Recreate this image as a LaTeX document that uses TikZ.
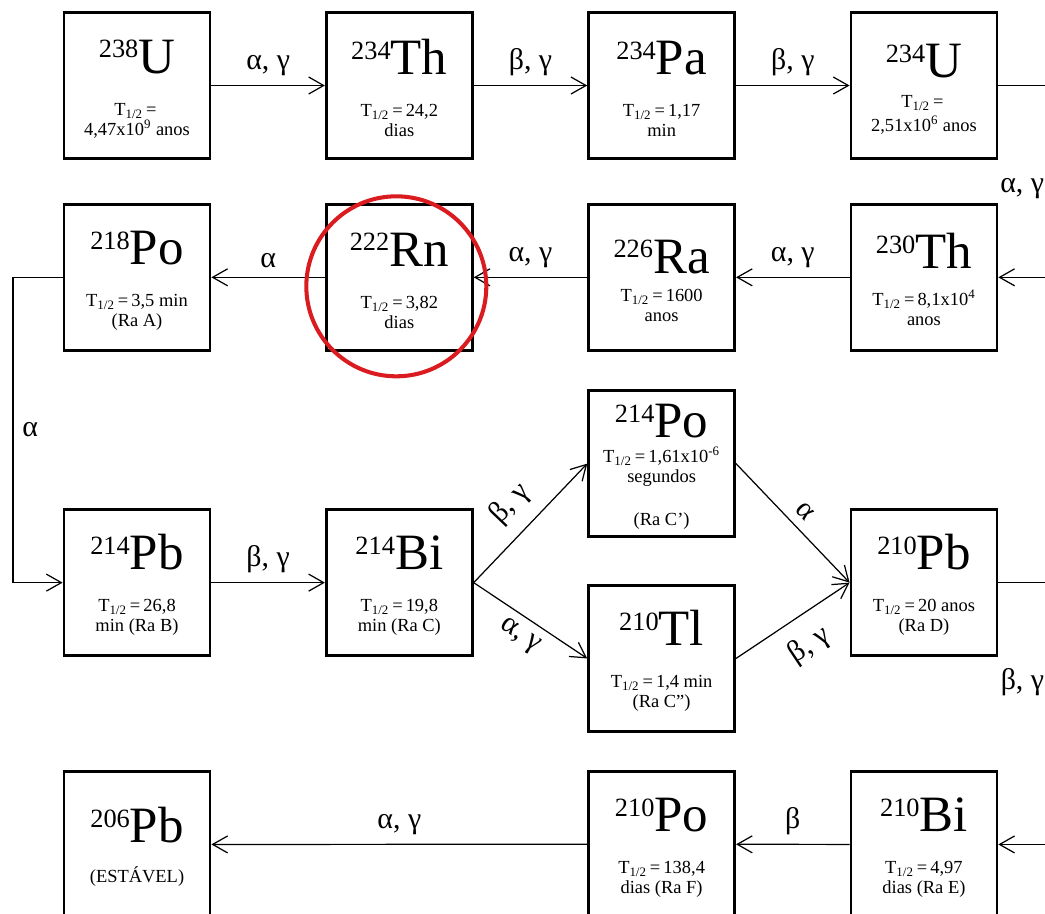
\documentclass[tikz,border=0pt]{standalone}
\usepackage{fontspec}
\setmainfont{Liberation Serif}
\usetikzlibrary{arrows.meta,positioning}

\definecolor{ringred}{RGB}{218,28,32}
\newcommand{\nuc}[2]{{\fontsize{29}{29}\selectfont\rule{0pt}{23pt}\raisebox{8.8pt}{\fontsize{15}{15}\selectfont #1}#2}}
\newcommand{\thalf}{T\textsubscript{1/2}\,=\,}

\begin{document}
\begin{tikzpicture}[
    node distance=0.86cm and 2.27cm,
    nucbox/.style={
      rectangle, draw=black, line width=1.6pt, fill=white,
      align=center, font=\fontsize{10.5}{11.4}\selectfont,
      minimum width=2.92cm, minimum height=2.92cm, inner sep=0pt,
    },
    arr/.style={-{Straight Barb[length=3mm,width=3.4mm]}, line width=0.7pt},
    lbl/.style={font=\fontsize{17}{17}\selectfont, inner sep=3pt},
  ]
  \useasboundingbox (0,0) rectangle (20.9,-18.26);
  \clip (0,0) rectangle (20.9,-18.26);

  % Row 1: uranium series start
  \node[nucbox] (u238) at (2.74,-1.71) {\nuc{238}{U}\\[12.5pt]\thalf\\4,47x10\textsuperscript{9} anos};
  \node[nucbox, right=of u238] (th234) {\nuc{234}{Th}\\[12.5pt]\thalf 24,2\\dias};
  \node[nucbox, right=of th234] (pa234) {\nuc{234}{Pa}\\[12.5pt]\thalf 1,17\\min};
  \node[nucbox, right=of pa234] (u234) {\nuc{234}{U}\\[5.6pt]\thalf\\[2pt]2,51x10\textsuperscript{6} anos};

  % Row 2: back to the left
  \node[nucbox, below=of u234] (th230) {\nuc{230}{Th}\\[9.6pt]\thalf 8,1x10\textsuperscript{4}\\anos};
  \node[nucbox, left=of th230] (ra226) {\nuc{226}{Ra}\\[4.6pt]\thalf 1600\\anos};
  \node[nucbox, left=of ra226] (rn222) {\nuc{222}{Rn}\\[12.5pt]\thalf 3,82\\dias};
  \node[nucbox, left=of rn222] (po218) {\nuc{218}{Po}\\[12.5pt]\thalf 3,5 min\\(Ra A)};

  % Branch: Po-214 / Tl-210
  \node[nucbox, below=0.75cm of ra226] (po214) {\nuc{214}{Po}\\[2.8pt]\thalf 1,61x10\textsuperscript{-6}\\segundos\\[13pt](Ra C')};
  \node[nucbox, below=0.92cm of po214] (tl210) {\nuc{210}{Tl}\\[12.5pt]\thalf 1,4 min\\(Ra C'')};

  % Row 3
  \node[nucbox, below=3.13cm of po218] (pb214) {\nuc{214}{Pb}\\[12.5pt]\thalf 26,8\\min (Ra B)};
  \node[nucbox, right=of pb214] (bi214) {\nuc{214}{Bi}\\[12.5pt]\thalf 19,8\\min (Ra C)};
  \node[nucbox, below=3.13cm of th230] (pb210) {\nuc{210}{Pb}\\[12.5pt]\thalf 20 anos\\(Ra D)};

  % Row 4: end of chain
  \node[nucbox, below=2.26cm of pb214] (pb206) {\nuc{206}{Pb}\\[11.4pt](ESTÁVEL)};
  \node[nucbox, below=0.74cm of tl210] (po210) {\nuc{210}{Po}\\[12.5pt]\thalf 138,4\\dias (Ra F)};
  \node[nucbox, below=2.26cm of pb210] (bi210) {\nuc{210}{Bi}\\[12.5pt]\thalf 4,97\\dias (Ra E)};

  % turning points off the edges
  \coordinate (rgt) at (21.0,0);
  \coordinate (lft) at (0.26,0);

  % Decays, row 1
  \draw[arr] (u238) -- node[lbl, above=2pt]{α, γ} (th234);
  \draw[arr] (th234) -- node[lbl, above=2pt]{β, γ} (pa234);
  \draw[arr] (pa234) -- node[lbl, above=2pt]{β, γ} (u234);
  \draw[arr] (u234.east) -- (u234.east -| rgt) -- node[lbl, left, pos=0.54]{α, γ} (th230.east -| rgt) -- (th230.east);

  % Decays, row 2
  \draw[arr] (th230) -- node[lbl, above=2pt]{α, γ} (ra226);
  \draw[arr] (ra226) -- node[lbl, above=2pt]{α, γ} (rn222);
  \draw[arr] (rn222) -- node[lbl, above=2pt]{α} (po218);
  \draw[arr] (po218.west) -- (po218.west -| lft) -- node[lbl, right=2pt]{α} (pb214.west -| lft) -- (pb214.west);

  % Decays, row 3 and the branch
  \draw[arr] (pb214) -- node[lbl, above=2pt]{β, γ} (bi214);
  \draw[arr] (bi214.east) -- node[lbl, above=5pt, sloped]{β, γ} (po214.west);
  \draw[arr] (bi214.east) -- node[lbl, below=2pt, sloped]{α, γ} (tl210.west);
  \draw[arr] (po214.east) -- node[lbl, above=2pt, sloped]{α} (pb210.west);
  \draw[arr] (tl210.east) -- node[lbl, below=6pt, sloped]{β, γ} (pb210.west);
  \draw[arr] (pb210.east) -- (pb210.east -| rgt) -- node[lbl, left, pos=0.38]{β, γ} (bi210.east -| rgt) -- (bi210.east);

  % Decays, row 4
  \draw[arr] (bi210) -- node[lbl, above=2pt]{β} (po210);
  \draw[arr] (po210) -- node[lbl, above=2pt]{α, γ} (pb206);

  % radon highlighted
  \node[draw=ringred, line width=2.3pt, circle, minimum size=3.6cm] (ring) at ([xshift=-0.06cm,yshift=-0.18cm]rn222.center) {};

\end{tikzpicture}
\end{document}
